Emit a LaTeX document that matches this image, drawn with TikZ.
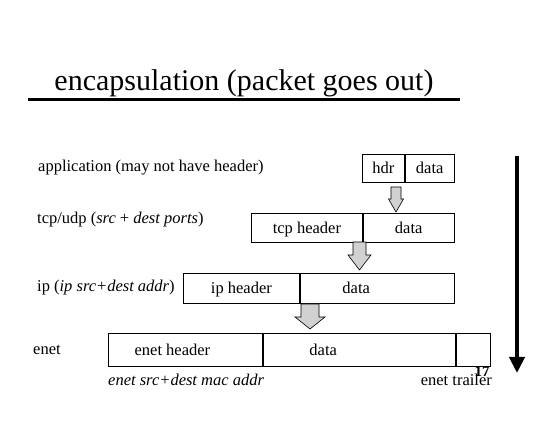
\documentclass[tikz,border=0pt]{standalone}
\usepackage{fontspec}
\setmainfont{Liberation Serif}
\usetikzlibrary{positioning,arrows.meta}
% gray block arrow pointing down: x, top, head start, tip, shaft width, head width
\newcommand\pushdown[6]{%
  \filldraw[fill=black!18,draw=black,line width=0.6pt] ({#1-#5/2},#2) -- ({#1+#5/2},#2) -- ({#1+#5/2},#3) -- ({#1+#6/2},#3) -- (#1,#4) -- ({#1-#6/2},#3) -- ({#1-#5/2},#3) -- cycle;}
\begin{document}
\begin{tikzpicture}[x=1pt,y=-1pt, every node/.style={font=\fontsize{16.5}{19}\selectfont},
  cell/.style={draw,line width=0.8pt,inner sep=0pt,text height=11pt,text depth=0pt},
  lbl/.style={anchor=base west,inner sep=0pt}]
  \useasboundingbox (0,0) rectangle (550,425);
  % title
  \node[anchor=base,inner sep=0pt,font=\fontsize{30}{34}\selectfont] (title) at (244,91) {encapsulation (packet goes out)};
  \draw[line width=3pt] (28,100) -- (460,100);
  % layer names
  \node[lbl] (applbl) at (38,172) {application (may not have header)};
  \node[lbl] (tcplbl) at (37,224) {tcp/udp (\textit{src} + \textit{dest ports})};
  \node[lbl] (iplbl) at (37,292) {ip (\textit{ip src+dest addr})};
  \node[lbl] (enetlbl) at (33,355) {enet};
  % application
  \node[cell,minimum width=42pt,minimum height=28pt,anchor=north west] (hdr) at (362,154) {hdr};
  \node[cell,minimum width=49pt,minimum height=28pt,right=0pt of hdr] (appdata) {data};
  % tcp/udp
  \node[cell,minimum width=111pt,minimum height=29pt,anchor=north west] (tcphdr) at (251,213) {tcp header};
  \node[cell,minimum width=91pt,minimum height=29pt,right=0pt of tcphdr] (tcpdata) {data};
  % ip
  \node[cell,minimum width=116pt,minimum height=30pt,anchor=north west] (iphdr) at (183,273) {ip header};
  \node[cell,minimum width=154pt,minimum height=30pt,right=0pt of iphdr] (ipdata) {};
  \node[cell,draw=none] (ipdatatxt) at ([xshift=-21pt]ipdata.center) {data};
  % enet
  \node[cell,minimum width=154pt,minimum height=33pt,anchor=north west] (enethdr) at (108,333) {};
  \node[cell,draw=none] (enethdrtxt) at ([xshift=-13pt]enethdr.center) {enet header};
  \node[cell,minimum width=192pt,minimum height=33pt,right=0pt of enethdr] (enetdata) {};
  \node[cell,draw=none] (enetdatatxt) at ([xshift=-36pt]enetdata.center) {data};
  \node[cell,minimum width=34pt,minimum height=33pt,right=0pt of enetdata] (enettrl) {};
  \node[lbl] (macaddr) at (108,385) {\textit{enet src+dest mac addr}};
  \node[anchor=base east,inner sep=0pt] (trailer) at (492,385) {enet trailer};
  \node[anchor=base,inner sep=0pt,font=\bfseries\fontsize{15}{17}\selectfont] (pagenum) at (482,377) {17};
  % push-down arrows
  \pushdown{396}{187}{199}{212}{10}{15}
  \pushdown{359.5}{242}{255}{270}{13}{23}
  \pushdown{310}{304}{317}{329}{18}{30}
  % direction
  \coordinate (dtop) at (517,156);
  \coordinate (dbot) at (517,373);
  \draw[line width=4pt,-{Triangle[width=15pt,length=16pt]}] (dtop) -- (dbot);
\end{tikzpicture}
\end{document}
